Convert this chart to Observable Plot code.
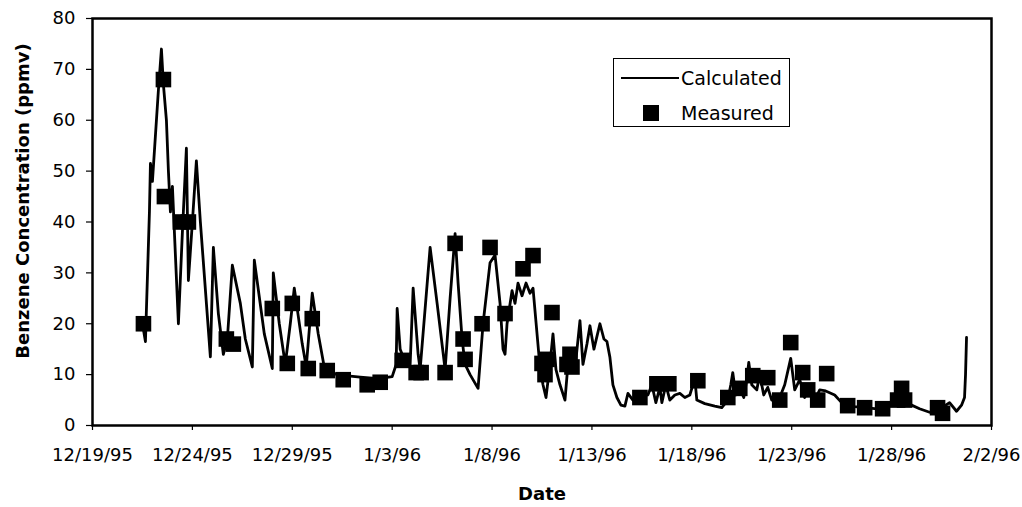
<!DOCTYPE html>
<html>
<head>
<meta charset="utf-8">
<script src="https://cdn.jsdelivr.net/npm/d3@7"></script>
<script src="https://cdn.jsdelivr.net/npm/@observablehq/plot@0.6"></script>
<style>
  html, body { margin: 0; padding: 0; background: #fff; }
  #wrap { position: relative; width: 1022px; height: 507px; }
  #legend {
    position: absolute; left: 613px; top: 58px; width: 177px; height: 69px;
    border: 1px solid #000; background: #fff; box-sizing: border-box;
    font-family: "DejaVu Sans", sans-serif; font-size: 19px; color: #000;
  }
  #legend .row { position: absolute; left: 0; height: 24px; line-height: 24px; }
  #legend .sw-line { position: absolute; left: 7px; width: 58px; height: 0; border-top: 2.8px solid #000; top: 11px; }
  #legend .sw-sq { position: absolute; left: 29px; width: 16px; height: 16px; background: #000; top: 4px; }
  #legend .lab { position: absolute; left: 67px; top: 0; white-space: nowrap; }
</style>
</head>
<body>
<div id="wrap"></div>
<script>
// Start of the time axis: 12/19/95 (day offsets below are counted from it)
const startDate = "1995-12-19";
const spanDays = 45;
const tickStepDays = 5;

// Calculated series: day offset from 12/19/95, benzene ppmv
const calcDay = [2.5,2.65,2.85,2.9,3.0,3.3,3.45,3.55,3.7,3.8,3.9,4.0,4.3,4.5,4.7,4.8,5.0,5.2,5.4,5.9,
  6.05,6.3,6.55,6.75,7.0,7.4,7.65,8.0,8.1,8.6,9.0,9.05,9.35,9.65,9.9,10.1,10.5,10.7,11.0,11.3,
  11.6,11.9,12.4,12.9,13.4,14.0,14.65,15.0,15.2,15.25,15.4,15.55,15.9,16.05,16.3,16.4,16.9,17.25,17.65,17.9,
  18.15,18.3,18.5,18.65,18.9,19.3,19.55,19.9,20.15,20.4,20.55,20.65,20.75,21.0,21.15,21.3,21.5,21.7,21.9,22.05,
  22.4,22.55,22.7,22.9,23.05,23.2,23.4,23.65,23.8,24.0,24.2,24.4,24.55,24.75,24.9,25.1,25.4,25.6,25.75,25.9,
  26.05,26.25,26.45,26.65,26.8,27.05,27.3,27.55,27.8,28.0,28.2,28.4,28.5,28.7,28.9,29.15,29.4,29.65,29.9,30.15,
  30.25,30.65,31.15,31.5,31.8,31.95,32.05,32.2,32.4,32.6,32.75,32.85,33.0,33.25,33.4,33.6,33.8,34.0,34.25,34.45,
  34.65,34.95,35.15,35.4,35.65,35.9,36.15,36.4,36.7,37.15,37.5,37.8,38.15,38.65,39.15,39.65,40.05,40.3,40.65,41.0,
  41.4,41.9,42.4,42.9,43.25,43.5,43.65,43.7,43.75];
const calcVal = [20,16.5,42,51.5,48,66,74,67,60,50,42,47,20,38,54.5,28.5,40,52,40,13.5,
  35,22,14,17,31.5,24,17,11.5,32.5,18,11.2,30,20,12,20,27,16,11.5,26,18,
  11.5,10.5,9.8,9.7,9.5,9.3,9.4,9.6,12,23,15,13.5,12,27,14,11,35,24,11,25,
  37.7,28,17,12,10,7.3,20,32,33.5,24,15,14,20,26.5,24,28,25.5,28,26,27,
  11.4,8,5.5,12,18,11,8,5,12,15,13,20.6,12,16,19.6,15,20,17,16.5,13.4,
  8,5.5,4,3.8,6.3,5,5.5,6.5,6,8,4.5,7.5,4.5,8,5,6,6.3,5.5,6,9.2,
  5,4.3,3.8,3.5,5,8,10.4,6,7.3,5.5,9,12.4,8,7,10,6,7.5,5,4.5,6,
  8,13.2,7,9,5.5,8,5,7,6.8,6,4.5,3.9,3.7,3.5,3.3,3.5,4.5,7.5,5,4,
  3.3,2.6,3.2,4.5,2.8,4,5.5,10,17.3];

// Measured series: day offset from 12/19/95, benzene ppmv
const measDay = [2.55,3.55,3.6,4.4,4.8,6.7,7.05,9.0,9.75,10.0,10.8,11.0,11.75,12.55,13.75,14.4,15.5,16.2,16.45,17.65,
  18.15,18.55,18.65,19.5,19.9,20.65,21.55,22.05,22.5,22.65,22.75,23.0,23.75,23.9,24.0,27.4,28.25,28.85,30.3,31.8,
  32.4,33.05,33.8,34.4,34.95,35.55,35.8,36.3,36.75,37.8,38.65,39.55,40.3,40.5,40.65,42.3,42.55];
const measVal = [20,68,45,40,40,17,16,23,12.2,24,11.2,21,10.8,9,8,8.5,12.8,10.4,10.4,10.4,
  35.8,17,13,20,35,22,30.8,33.4,12.2,10,13,22.2,12,14,11.5,5.5,8.2,8.2,8.8,5.5,
  7.3,9.8,9.4,5,16.3,10.4,7,5,10.2,3.9,3.5,3.3,5,7.3,5,3.5,2.4];

const yTicks = [0,10,20,30,40,50,60,70,80];
const xTitle = "Date";
const yTitle = "Benzene Concentration (ppmv)";
const legendLabels = ["Calculated", "Measured"];

const DAY = 86400000;
const t0 = new Date(startDate + "T00:00:00Z").getTime();
const toDate = d => new Date(t0 + d * DAY);
const calc = calcDay.map((d, i) => ({date: toDate(d), value: calcVal[i]}));
const meas = measDay.map((d, i) => ({date: toDate(d), value: measVal[i]}));
const xTicks = d3.range(0, spanDays + 1, tickStepDays).map(toDate);
const fmt = d3.utcFormat("%-m/%-d/%y");

const chart = Plot.plot({
  width: 1022,
  height: 507,
  marginLeft: 92,
  marginRight: 31,
  marginTop: 18,
  marginBottom: 82,
  style: {fontFamily: "'DejaVu Sans', sans-serif", fontSize: "18px", background: "#fff", color: "#000", overflow: "visible"},
  x: {type: "utc", domain: [toDate(0), toDate(spanDays)]},
  y: {domain: [0, 80]},
  marks: [
    Plot.axisX({ticks: xTicks, tickFormat: fmt, tickSize: 5, tickPadding: 18, label: null, strokeWidth: 1.2}),
    Plot.axisY({ticks: yTicks, tickSize: 6, tickPadding: 11, label: null, strokeWidth: 1.2}),
    Plot.line(calc, {x: "date", y: "value", stroke: "#000", strokeWidth: 2.8}),
    Plot.dot(meas, {x: "date", y: "value", symbol: "square", r: 8.8, fill: "#000", stroke: "none"}),
    Plot.frame({stroke: "#000", strokeWidth: 2.5}),
    Plot.text([xTitle], {frameAnchor: "bottom", dy: 74, text: d => d, fontWeight: "bold", fontSize: 18}),
    Plot.text([yTitle], {frameAnchor: "left", textAnchor: "middle", dx: -69, dy: -21, rotate: -90, text: d => d, fontWeight: "bold", fontSize: 18})
  ]
});

const wrap = document.getElementById("wrap");
wrap.appendChild(chart);

const legend = document.createElement("div");
legend.id = "legend";
legend.innerHTML =
  `<div class="row" style="top:7px;width:100%"><div class="sw-line"></div><div class="lab">${legendLabels[0]}</div></div>` +
  `<div class="row" style="top:42px;width:100%"><div class="sw-sq"></div><div class="lab">${legendLabels[1]}</div></div>`;
wrap.appendChild(legend);
</script>
</body>
</html>
